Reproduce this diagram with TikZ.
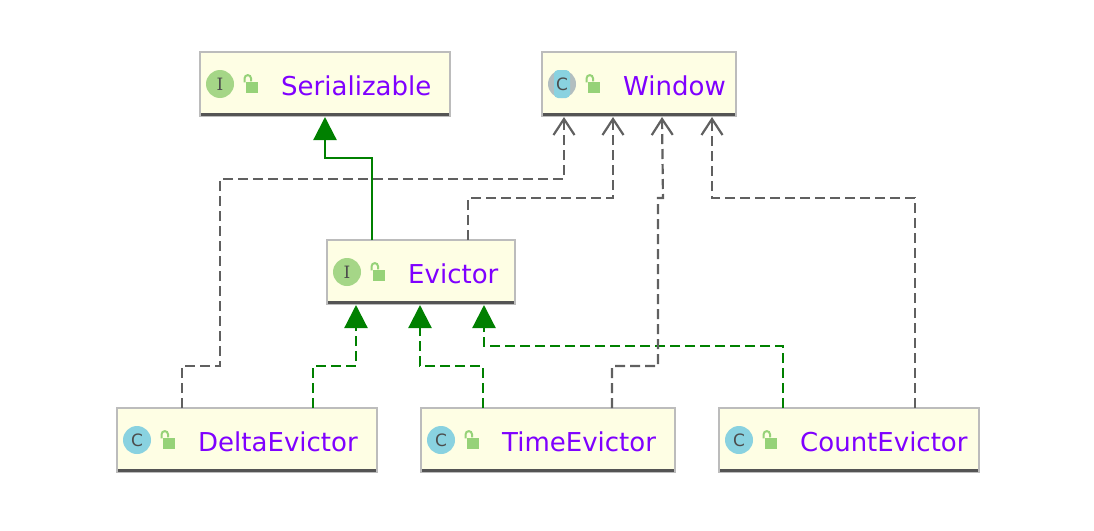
\documentclass[tikz,border=0pt]{standalone}
\usepackage{fontspec}
\setmainfont{DejaVu Sans}
\newfontfamily\markserif{DejaVu Serif}
\usetikzlibrary{arrows.meta,positioning}
\definecolor{boxfill}{RGB}{254,254,228}
\definecolor{boxline}{RGB}{188,188,188}
\definecolor{boxbase}{RGB}{84,84,84}
\definecolor{namecol}{RGB}{127,0,255}
\definecolor{linkgray}{RGB}{96,96,96}
\definecolor{linkgreen}{RGB}{0,128,0}
\definecolor{iface}{RGB}{165,214,135}
\definecolor{klass}{RGB}{137,210,224}
\definecolor{ringgray}{RGB}{178,190,192}
\definecolor{lockcol}{RGB}{150,210,120}
\tikzset{
  classbox/.style={draw=boxline,line width=2pt,fill=boxfill,minimum height=64pt,inner sep=0pt,outer sep=0pt,anchor=north west},
  classname/.style={text=namecol,font=\fontsize{26}{26}\selectfont,anchor=base west,inner sep=0pt},
  kindmark/.style={circle,minimum size=28pt,inner sep=0pt,text=black!70,font=\fontsize{17}{17}\selectfont},
  lockbody/.style={fill=lockcol,minimum width=12pt,minimum height=11pt,inner sep=0pt},
  realize/.style={linkgreen,line width=2.2pt,-{Triangle[length=23pt,width=23pt]}},
  implement/.style={realize,dash pattern=on 10pt off 5pt},
  depend/.style={linkgray,line width=2.2pt,dash pattern=on 10pt off 5pt,-{Straight Barb[length=16pt,width=21pt]}}
}
% box with its dark base line, letter mark, lock and name
\newcommand{\classnode}[7]{
\node[classbox,minimum width=#4pt] (#1) at (#2,#3) {};
\draw[boxbase,line width=2.6pt] ([xshift=1pt,yshift=1.6pt]#1.south west) -- ([xshift=-1pt,yshift=1.6pt]#1.south east);
\node[kindmark,fill=#5] (#1mark) at ([shift={(20pt,-32pt)}]#1.north west) {#6};
\node[lockbody] (#1lock) at ([shift={(52pt,-35pt)}]#1.north west) {};
\draw[lockcol,line width=2pt] ([xshift=-1pt]#1lock.north) -- ++(0,3pt) arc[start angle=0,end angle=180,radius=3.2pt] -- ++(0,-4pt);
\node[classname] (#1name) at ([shift={(81pt,-43pt)}]#1.north west) {#7};
}
\begin{document}
\begin{tikzpicture}[x=1pt,y=-1pt]
\useasboundingbox (0,0) rectangle (1094,530);
\classnode{Serializable}{200}{52}{250}{iface}{\markserif I}{Serializable}
\classnode{Window}{542}{52}{194}{ringgray}{}{Window}
\node[kindmark,rectangle,rounded corners=4pt,minimum width=16pt,minimum height=28pt,fill=klass] (Windowletter) at (Windowmark) {C};
\classnode{Evictor}{327}{240}{188}{iface}{\markserif I}{Evictor}
\classnode{DeltaEvictor}{117}{408}{260}{klass}{C}{DeltaEvictor}
\classnode{TimeEvictor}{421}{408}{254}{klass}{C}{TimeEvictor}
\classnode{CountEvictor}{719}{408}{260}{klass}{C}{CountEvictor}
\draw[realize] ([xshift=45pt]Evictor.north west) -- ++(0,-82) -- ++(-47,0) -- ([xshift=125pt,yshift=-1pt]Serializable.south west);
\draw[implement] ([xshift=196pt]DeltaEvictor.north west) -- ++(0,-42) -- ++(43,0) -- ([xshift=29pt,yshift=-1pt]Evictor.south west);
\draw[implement] ([xshift=62pt]TimeEvictor.north west) -- ++(0,-42) -- ++(-63,0) -- ([xshift=93pt,yshift=-1pt]Evictor.south west);
\draw[implement] ([xshift=64pt]CountEvictor.north west) -- ++(0,-62) -- ++(-299,0) -- ([xshift=157pt,yshift=-1pt]Evictor.south west);
\draw[depend] ([xshift=65pt]DeltaEvictor.north west) -- ++(0,-42) -- ++(38,0) -- ++(0,-187) -- ++(344,0) -- ([xshift=22pt,yshift=-1pt]Window.south west);
\draw[depend] ([xshift=141pt]Evictor.north west) -- ++(0,-42) -- ++(145,0) -- ([xshift=71pt,yshift=-1pt]Window.south west);
\draw[depend] ([xshift=191pt]TimeEvictor.north west) -- ++(0,-42) -- ++(46,0) -- ++(0,-168) -- ++(5,0) -- ([xshift=120pt,yshift=-1pt]Window.south west);
\draw[depend] ([xshift=196pt]CountEvictor.north west) -- ++(0,-210) -- ++(-203,0) -- ([xshift=170pt,yshift=-1pt]Window.south west);
\end{tikzpicture}
\end{document}
